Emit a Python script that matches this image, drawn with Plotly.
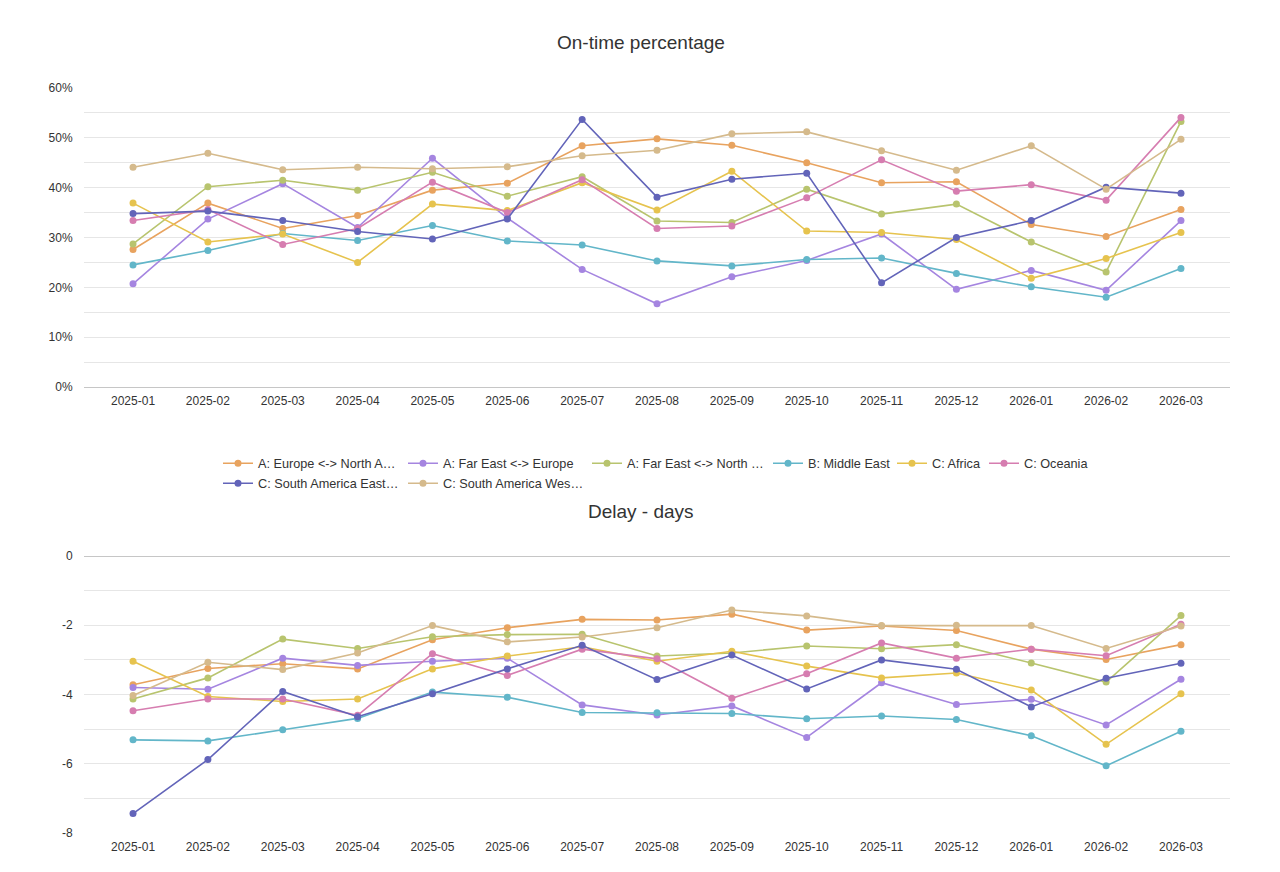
import plotly.graph_objects as go
from plotly.subplots import make_subplots

months = ["2025-01", "2025-02", "2025-03", "2025-04", "2025-05", "2025-06", "2025-07",
          "2025-08", "2025-09", "2025-10", "2025-11", "2025-12", "2026-01", "2026-02", "2026-03"]

series_names = ["A: Europe <-> North A…", "A: Far East <-> Europe", "A: Far East <-> North …",
                "B: Middle East", "C: Africa", "C: Oceania",
                "C: South America East…", "C: South America Wes…"]

colors = ["#e8a35f", "#a585e0", "#b8c46e", "#62b6c9", "#e6c34e", "#d67db0", "#6264b9", "#d5ba8c"]

# On-time percentage (%)
ontime_eu_na = [27.6, 36.9, 31.8, 34.4, 39.5, 40.9, 48.4, 49.8, 48.5, 45.0, 41.0, 41.2, 32.6, 30.2, 35.6]
ontime_fe_eu = [20.7, 33.7, 40.8, 32.0, 45.9, 33.9, 23.6, 16.7, 22.1, 25.4, 30.7, 19.6, 23.4, 19.4, 33.4]
ontime_fe_na = [28.7, 40.2, 41.5, 39.5, 43.1, 38.3, 42.2, 33.3, 33.0, 39.7, 34.7, 36.7, 29.1, 23.1, 53.3]
ontime_me = [24.5, 27.4, 30.8, 29.4, 32.4, 29.3, 28.5, 25.3, 24.3, 25.6, 25.9, 22.8, 20.1, 18.0, 23.8]
ontime_af = [36.9, 29.1, 30.7, 25.0, 36.7, 35.4, 41.0, 35.5, 43.3, 31.3, 31.0, 29.6, 21.8, 25.8, 31.0]
ontime_oc = [33.4, 35.6, 28.6, 31.8, 41.1, 35.0, 41.6, 31.8, 32.3, 38.0, 45.6, 39.3, 40.6, 37.5, 54.1]
ontime_sae = [34.8, 35.3, 33.4, 31.2, 29.7, 33.7, 53.7, 38.1, 41.7, 42.9, 20.9, 30.0, 33.4, 40.1, 38.9]
ontime_saw = [44.1, 46.9, 43.6, 44.1, 43.8, 44.2, 46.4, 47.5, 50.8, 51.2, 47.4, 43.5, 48.4, 39.7, 49.7]

# Delay (days)
delay_eu_na = [-3.72, -3.25, -3.11, -3.26, -2.42, -2.07, -1.83, -1.85, -1.68, -2.14, -2.02, -2.15, -2.69, -2.99, -2.56]
delay_fe_eu = [-3.80, -3.85, -2.95, -3.16, -3.04, -2.95, -4.30, -4.59, -4.33, -5.24, -3.66, -4.29, -4.14, -4.88, -3.56]
delay_fe_na = [-4.13, -3.52, -2.40, -2.67, -2.33, -2.27, -2.26, -2.89, -2.80, -2.60, -2.68, -2.56, -3.09, -3.64, -1.72]
delay_me = [-5.31, -5.34, -5.02, -4.69, -3.93, -4.08, -4.52, -4.53, -4.55, -4.70, -4.62, -4.72, -5.19, -6.06, -5.06]
delay_af = [-3.04, -4.06, -4.20, -4.13, -3.26, -2.89, -2.62, -3.04, -2.75, -3.18, -3.52, -3.38, -3.87, -5.44, -3.98]
delay_oc = [-4.47, -4.13, -4.13, -4.60, -2.82, -3.45, -2.69, -2.97, -4.11, -3.40, -2.51, -2.95, -2.69, -2.88, -1.97]
delay_sae = [-7.44, -5.88, -3.91, -4.64, -3.98, -3.26, -2.58, -3.57, -2.86, -3.84, -3.00, -3.27, -4.36, -3.53, -3.10]
delay_saw = [-4.03, -3.07, -3.28, -2.80, -2.01, -2.48, -2.34, -2.07, -1.56, -1.73, -2.01, -2.00, -2.01, -2.67, -2.02]

ontime = [ontime_eu_na, ontime_fe_eu, ontime_fe_na, ontime_me, ontime_af, ontime_oc, ontime_sae, ontime_saw]
delay = [delay_eu_na, delay_fe_eu, delay_fe_na, delay_me, delay_af, delay_oc, delay_sae, delay_saw]

top_ticks = [0, 10, 20, 30, 40, 50, 60]
top_ticktext = ["0%", "10%", "20%", "30%", "40%", "50%", "60%"]
bot_ticks = [0, -2, -4, -6, -8]
bot_ticktext = ["0", "-2", "-4", "-6", "-8"]

FONT = "Liberation Sans, Arial, Helvetica, sans-serif"
W, H = 1280, 872
L, R, T, B = 84, 50, 88, 39
ph = H - T - B
pw = W - L - R

def py(pix):
    return (H - B - pix) / ph

def px(pix):
    return (pix - L) / pw

# legend entry text start (page px) and row centre
legend_text_x = [258, 443, 627, 808, 932, 1024, 258, 443]
legend_row_y = [463.5, 463.5, 463.5, 463.5, 463.5, 463.5, 483.5, 483.5]

fig = make_subplots(rows=2, cols=1)
fig.update_layout(
    yaxis=dict(domain=[py(387), 1.0]),
    yaxis2=dict(domain=[0.0, py(556)]),
)

leg_font = dict(family=FONT, size=12.7, color="#333333")
legend_layouts = {}
for i, name in enumerate(series_names):
    leg = "legend" if i == 0 else "legend%d" % (i + 1)
    legend_layouts[leg] = dict(orientation="h", x=px(legend_text_x[i] - 40), xanchor="left",
                               y=py(legend_row_y[i]), yanchor="middle", font=leg_font,
                               itemwidth=30, bgcolor="rgba(0,0,0,0)", borderwidth=0)
    fig.add_trace(go.Scatter(x=months, y=ontime[i], name=name, mode="lines+markers",
                             line=dict(color=colors[i], width=1.6),
                             marker=dict(color=colors[i], size=7),
                             legend=leg, legendgroup=name), row=1, col=1)
    fig.add_trace(go.Scatter(x=months, y=delay[i], name=name, mode="lines+markers",
                             line=dict(color=colors[i], width=1.6),
                             marker=dict(color=colors[i], size=7),
                             showlegend=False, legendgroup=name), row=2, col=1)

grid = "#e6e6e6"
axis_font = dict(family=FONT, size=12, color="#333333")
for r in (1, 2):
    fig.update_xaxes(type="category", range=[-0.655, 14.655], showgrid=False,
                     showline=False, ticks="outside", ticklen=3, tickcolor="rgba(0,0,0,0)",
                     tickfont=axis_font, row=r, col=1)

fig.update_yaxes(range=[0, 60], tickmode="array", tickvals=top_ticks, ticktext=top_ticktext,
                 showgrid=True, gridcolor=grid, gridwidth=1,
                 minor=dict(dtick=5, tick0=0, showgrid=True, gridcolor=grid, gridwidth=1),
                 zeroline=True, zerolinecolor="#c6c6c6", zerolinewidth=1.2,
                 ticks="outside", ticklen=8, tickcolor="rgba(0,0,0,0)",
                 tickfont=axis_font, row=1, col=1)
fig.update_yaxes(range=[-8, 0], tickmode="array", tickvals=bot_ticks, ticktext=bot_ticktext,
                 showgrid=True, gridcolor=grid, gridwidth=1,
                 minor=dict(dtick=1, tick0=0, showgrid=True, gridcolor=grid, gridwidth=1),
                 zeroline=True, zerolinecolor="#c6c6c6", zerolinewidth=1.2,
                 ticks="outside", ticklen=8, tickcolor="rgba(0,0,0,0)",
                 tickfont=axis_font, row=2, col=1)

fig.update_layout(
    width=W, height=H,
    margin=dict(l=L, r=R, t=T, b=B),
    paper_bgcolor="white", plot_bgcolor="white",
    font=dict(family=FONT, color="#333333"),
    annotations=[
        dict(text="On-time percentage", x=px(641), y=py(43), xref="paper", yref="paper",
             showarrow=False, xanchor="center", yanchor="middle",
             font=dict(family=FONT, size=19, color="#333333")),
        dict(text="Delay - days", x=px(641), y=py(511), xref="paper", yref="paper",
             showarrow=False, xanchor="center", yanchor="middle",
             font=dict(family=FONT, size=19, color="#333333")),
    ],
    hovermode="closest",
    **legend_layouts,
)

fig.write_html("out.html", config={"displayModeBar": False},
               post_script="document.body.style.margin='0px';")
